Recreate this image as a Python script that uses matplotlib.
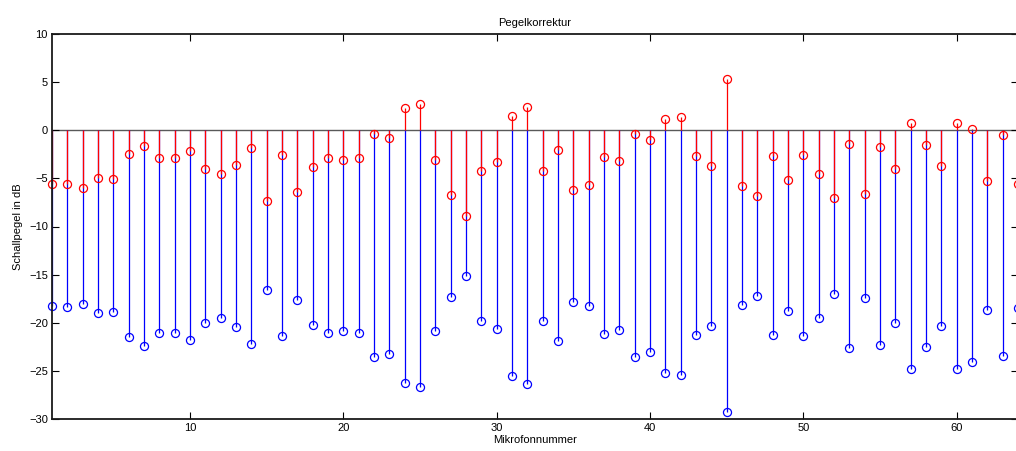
import numpy as np
import matplotlib.pyplot as plt

# microphone numbers and level values in dB
mic = np.arange(1, 65)

level_corr = [
    -5.6, -5.6, -6.0, -5.0, -5.1, -2.5, -1.6, -2.9, -2.9, -2.2,
    -4.0, -4.5, -3.6, -1.8, -7.4, -2.6, -6.4, -3.8, -2.9, -3.1,
    -2.9, -0.4, -0.8, 2.3, 2.7, -3.1, -6.7, -8.9, -4.2, -3.3,
    1.5, 2.4, -4.2, -2.1, -6.2, -5.7, -2.8, -3.2, -0.4, -1.0,
    1.2, 1.4, -2.7, -3.7, 5.3, -5.8, -6.8, -2.7, -5.2, -2.6,
    -4.5, -7.0, -1.4, -6.6, -1.7, -4.0, 0.8, -1.5, -3.7, 0.8,
    0.1, -5.3, -0.5, -5.6,
]

level_raw = [
    -18.3, -18.4, -18.0, -19.0, -18.9, -21.5, -22.4, -21.1, -21.1, -21.8,
    -20.0, -19.5, -20.4, -22.2, -16.6, -21.4, -17.6, -20.2, -21.1, -20.9,
    -21.1, -23.6, -23.2, -26.3, -26.7, -20.9, -17.3, -15.1, -19.8, -20.7,
    -25.5, -26.4, -19.8, -21.9, -17.8, -18.3, -21.2, -20.8, -23.6, -23.0,
    -25.2, -25.4, -21.3, -20.3, -29.3, -18.2, -17.2, -21.3, -18.8, -21.4,
    -19.5, -17.0, -22.6, -17.4, -22.3, -20.0, -24.8, -22.5, -20.3, -24.8,
    -24.1, -18.7, -23.5, -18.5,
]

plt.rcParams['font.family'] = ['Liberation Sans', 'DejaVu Sans']
plt.rcParams['font.size'] = 8

fig = plt.figure(figsize=(10.16, 4.51), dpi=100)
ax = fig.add_axes([52 / 1016, 32 / 451, 966 / 1016, 385 / 451])

# blue stems first, red ones on top
for vals, col in [(level_raw, (0, 0, 1)), (level_corr, (1, 0, 0))]:
    ml, sl, bl = ax.stem(mic, vals, basefmt=' ')
    sl.set_color(col)
    sl.set_linewidth(0.9)
    ml.set_color(col)
    ml.set_marker('o')
    ml.set_markerfacecolor('none')
    ml.set_markersize(5.8)
    ml.set_markeredgewidth(0.9)
    ml.set_clip_on(False)

ax.axhline(0, color='0.35', linewidth=1.0, zorder=1)

ax.set_xlim(1, 64)
ax.set_ylim(-30, 10)
ax.set_xticks(np.arange(10, 61, 10))
ax.set_yticks(np.arange(-30, 11, 5))
ax.tick_params(direction='in', top=True, right=True, length=5, width=0.8, pad=3)
for s in ax.spines.values():
    s.set_linewidth(1.3)
    s.set_color('0.1')

ax.set_title('Pegelkorrektur', fontsize=8, pad=6)
ax.set_xlabel('Mikrofonnummer', labelpad=1)
ax.set_ylabel('Schallpegel in dB', labelpad=4)

plt.savefig('out.png', dpi=100)
